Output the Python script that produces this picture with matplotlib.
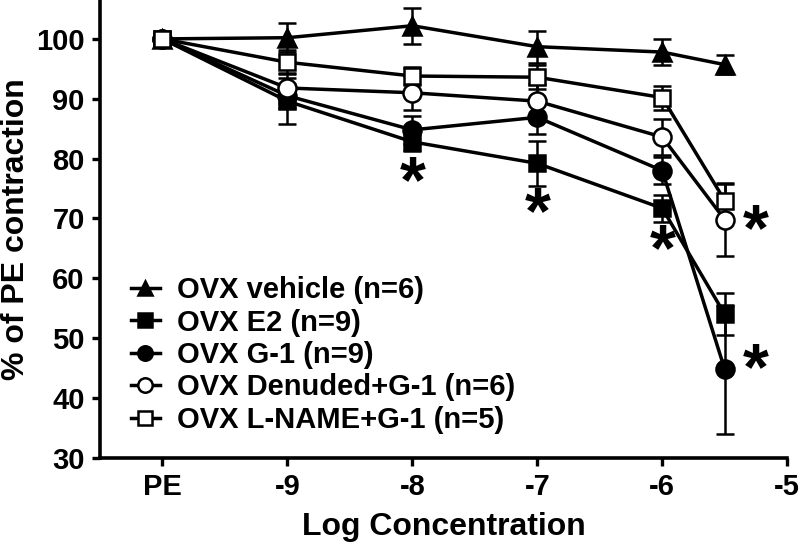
import matplotlib
matplotlib.use("Agg")
import matplotlib.pyplot as plt

plt.rcParams['font.family'] = ['Liberation Sans', 'DejaVu Sans']
plt.rcParams['font.weight'] = 'bold'

x = [-10, -9, -8, -7, -6, -5.5]
xticks = [-10, -9, -8, -7, -6, -5]
xticklabels = ['PE', '-9', '-8', '-7', '-6', '-5']
yticks = [30, 40, 50, 60, 70, 80, 90, 100]

labels = ['OVX vehicle (n=6)', 'OVX E2 (n=9)', 'OVX G-1 (n=9)',
          'OVX Denuded+G-1 (n=6)', 'OVX L-NAME+G-1 (n=5)']
vehicle = [100, 100.2, 102.2, 98.7, 97.8, 95.7]
vehicle_err = [0, 2.4, 3.0, 2.7, 2.2, 1.6]
e2 = [100, 89.6, 82.8, 79.2, 71.7, 54.0]
e2_err = [0, 3.8, 1.5, 3.8, 2.3, 3.5]
g1 = [100, 90.5, 84.8, 86.9, 78.0, 44.8]
g1_err = [0, 2.0, 2.3, 2.8, 2.2, 10.8]
denuded = [100, 91.8, 91.0, 89.6, 83.6, 69.8]
denuded_err = [0, 2.5, 2.8, 2.8, 3.0, 6.0]
lname = [100, 96.1, 93.8, 93.6, 90.2, 73.0]
lname_err = [0, 2.0, 1.5, 2.0, 2.0, 3.0]

star_x = [-8, -7, -6, -5.25, -5.25]
star_y = [79.0, 73.8, 67.6, 71.0, 47.7]

fig = plt.figure(figsize=(8.0, 5.51), dpi=100)
ax = fig.add_axes([0.125, 0.169, 0.859, 0.831])

series = [
    (vehicle, vehicle_err, '^', 'black', 13),
    (e2, e2_err, 's', 'black', 12),
    (g1, g1_err, 'o', 'black', 13),
    (denuded, denuded_err, 'o', 'white', 13),
    (lname, lname_err, 's', 'white', 12),
]
handles = []
for (vals, err, mk, fc, ms), lab in zip(series, labels):
    ax.errorbar(x, vals, yerr=err, fmt='none', ecolor='black', elinewidth=1.8,
                capsize=6.5, capthick=1.8, zorder=2)
    h, = ax.plot(x, vals, color='black', lw=2.5, marker=mk, ms=ms,
                 mfc=fc, mec='black', mew=1.8, label=lab, zorder=3)
    handles.append(h)

fs_star = 48
for sx, sy in zip(star_x, star_y):
    ax.annotate('*', xy=(sx, sy), xytext=(0, -0.56 * fs_star), textcoords='offset points',
                fontsize=fs_star, fontweight='bold', ha='center', va='baseline',
                color='black')

ax.set_xlim(-10.5, -5)
ax.set_ylim(30, 106.5)
ax.set_xticks(xticks)
ax.set_xticklabels(xticklabels)
ax.set_yticks(yticks)
ax.spines['top'].set_visible(False)
ax.spines['right'].set_visible(False)
for s in ['left', 'bottom']:
    ax.spines[s].set_linewidth(2.6)
ax.tick_params(axis='both', width=2.4, length=6, labelsize=21, pad=5)
for t in ax.get_xticklabels() + ax.get_yticklabels():
    t.set_fontweight('bold')
ax.set_xlabel('Log Concentration', fontsize=23, fontweight='bold', labelpad=8)
ax.set_ylabel('% of PE contraction', fontsize=23, fontweight='bold', labelpad=4)

leg = fig.legend(handles=handles, loc='upper left', bbox_to_anchor=(0.145, 0.525),
                 frameon=False, fontsize=21, handlelength=1.0, handletextpad=0.6,
                 labelspacing=0.15, borderpad=0, markerscale=0.8)
for t in leg.get_texts():
    t.set_fontweight('bold')

fig.savefig('out.png', dpi=100)
